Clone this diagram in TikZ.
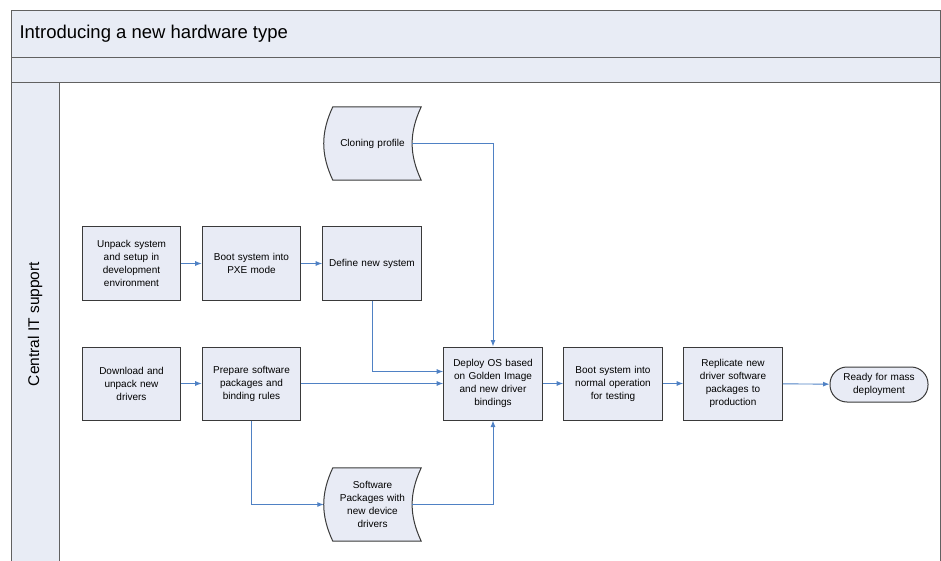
\documentclass[tikz,border=0pt]{standalone}
\usepackage{fontspec}
\setmainfont{Liberation Sans}
\usetikzlibrary{backgrounds, arrows.meta}

\definecolor{lanefill}{HTML}{E8ECF5}
\definecolor{boxfill}{HTML}{E8EBF5}
\definecolor{boxline}{HTML}{3A3A3A}
\definecolor{flow}{HTML}{4F81C4}

\tikzset{
    task/.style={draw=boxline, fill=boxfill, line width=1pt, minimum width=97pt,
        minimum height=73pt, text width=92pt, align=center,
        font=\fontsize{10}{13}\selectfont},
    store/.style={minimum width=97pt, minimum height=73pt, text width=80pt,
        align=center, font=\fontsize{10}{13}\selectfont},
    term/.style={draw=boxline, fill=boxfill, line width=1pt, rounded corners=17pt,
        minimum width=98pt, minimum height=35pt, text width=88pt, align=center,
        font=\fontsize{10}{13}\selectfont},
    flowline/.style={draw=flow, line width=0.9pt, -{Latex[length=6.5pt,width=5pt]}},
}

% stored data outline behind a store node
\newcommand{\storeoutline}[1]{%
    \begin{scope}[on background layer]
    \draw [draw=boxline, fill=boxfill, line width=1pt]
        ([xshift=9pt]#1.north west) to[bend right=25] ([xshift=9pt]#1.south west)
        -- (#1.south east) to[bend left=25] (#1.north east) -- cycle;
    \end{scope}}

\begin{document}
\begin{tikzpicture}[x=1pt, y=-1pt]
    \useasboundingbox (0,0) rectangle (941,561);
    % pool and lane
    \draw [fill=lanefill, draw=boxline!80, line width=1pt] (11,11) rectangle (940,58);
    \draw [fill=lanefill, draw=boxline!80, line width=1pt] (11,58) rectangle (940,83);
    \draw [fill=lanefill, draw=boxline!80, line width=1pt] (11,83) rectangle (59,562);
    \draw [draw=boxline!80, line width=1pt] (59,83) -- (940,83) -- (940,562);
    \node (title) at (16,34) [anchor=west, font=\fontsize{18.5}{21}\selectfont] {Introducing a new hardware type};
    \node (lane) at (35,324) [rotate=90, font=\fontsize{15.5}{18}\selectfont] {Central IT support};

    % tasks
    \node (unpack) at (131.5,263.5) [task] {Unpack system\\ and setup in\\ development\\ environment};
    \node (pxe) at (251.5,263.5) [task] {Boot system into\\ PXE mode};
    \node (define) at (372,263.5) [task] {Define new system};
    \node (download) at (131.5,383.5) [task] {Download and\\ unpack new\\ drivers};
    \node (prepare) at (251.5,383.5) [task] {Prepare software\\ packages and\\ binding rules};
    \node (deploy) at (493,383.5) [task] {Deploy OS based\\ on Golden Image\\ and new driver\\ bindings};
    \node (testing) at (613,383.5) [task] {Boot system into\\ normal operation\\ for testing};
    \node (replicate) at (733,383.5) [task] {Replicate new\\ driver software\\ packages to\\ production};
    \node (ready) at (879,384.5) [term] {Ready for mass\\ deployment};

    % stored data
    \node (clone) at (372.5,143.5) [store] {Cloning profile};
    \storeoutline{clone}
    \node (soft) at (372.5,504.5) [store] {Software\\ Packages with\\ new device\\ drivers};
    \storeoutline{soft}

    % flow
    \draw [flowline] (unpack) -- (pxe);
    \draw [flowline] (pxe) -- (define);
    \draw [flowline] (download) -- (prepare);
    \draw [flowline] (prepare) -- (deploy);
    \draw [flowline] (define.south) |- ([yshift=12pt]deploy.west);
    \draw [flowline] ([xshift=-9pt]clone.east) -| (deploy.north);
    \draw [flowline] (prepare.south) |- (soft.west);
    \draw [flowline] ([xshift=-9pt]soft.east) -| (deploy.south);
    \draw [flowline] (deploy) -- (testing);
    \draw [flowline] (testing) -- (replicate);
    \draw [flowline] (replicate) -- (ready);
\end{tikzpicture}
\end{document}
